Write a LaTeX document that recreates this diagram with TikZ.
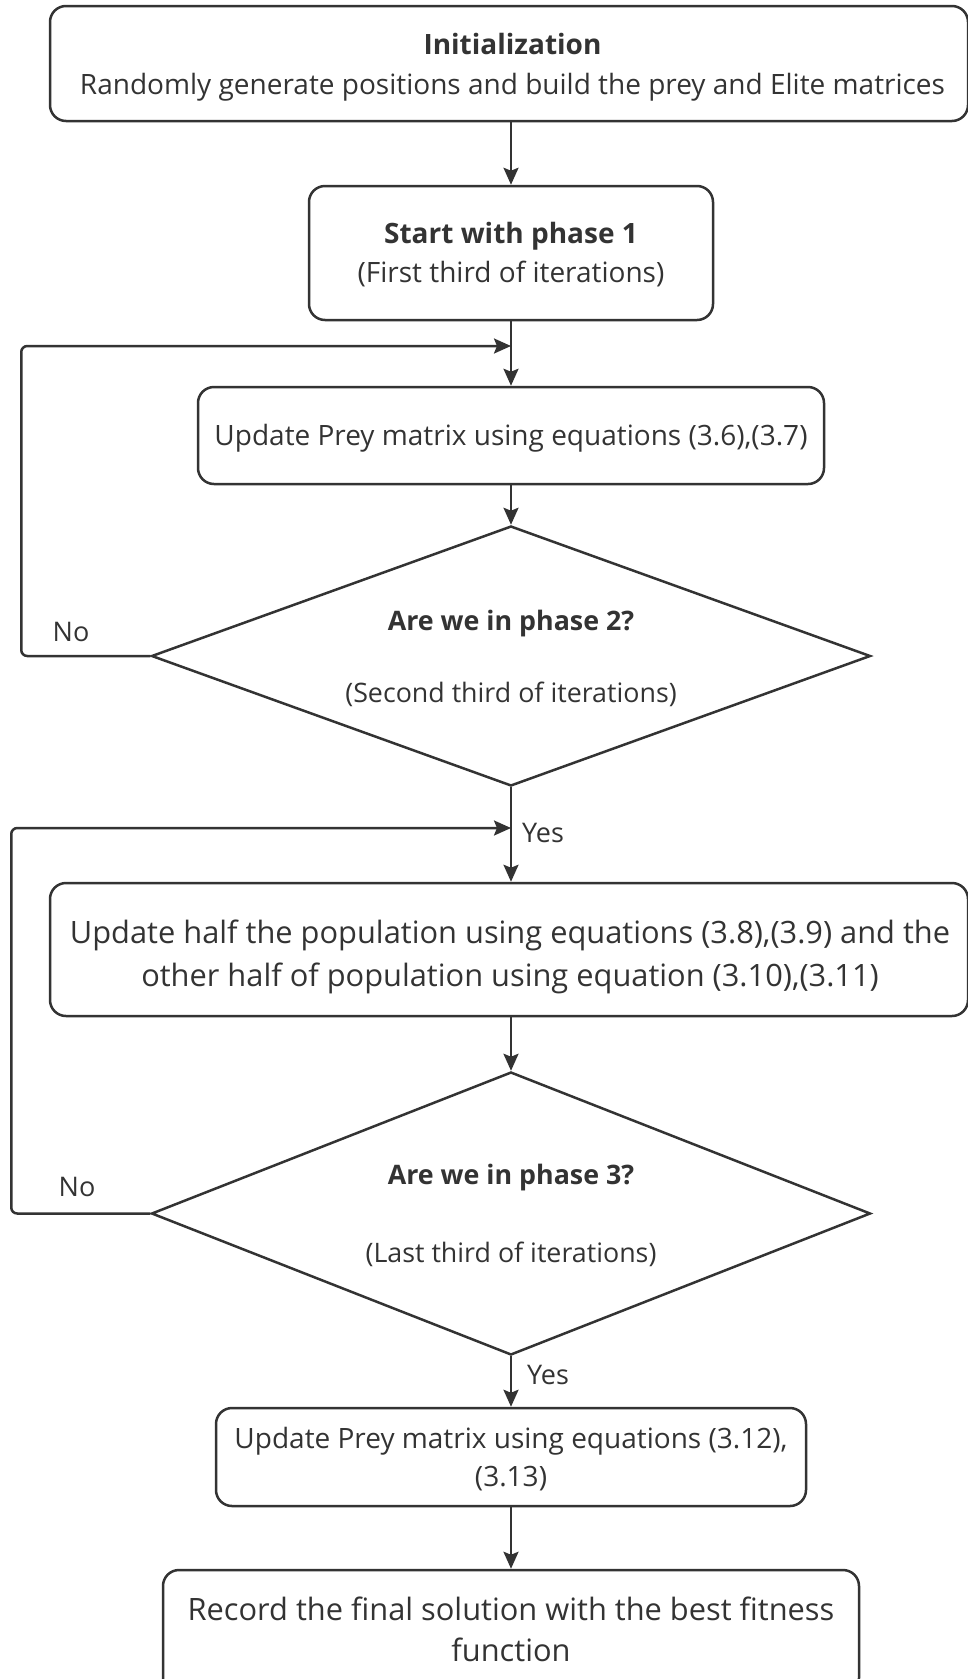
\documentclass[tikz,border=0pt]{standalone}
\usepackage{fontspec}
\setmainfont{Open Sans}
\usetikzlibrary{shapes.geometric,arrows.meta}
\definecolor{ink}{HTML}{333333}
\begin{document}
\begin{tikzpicture}[x=1pt,y=-1pt,
  box/.style={draw=ink, line width=2.5pt, rounded corners=16pt, inner sep=0pt},
  dia/.style={draw=ink, diamond, shape aspect=2.77, line width=2.5pt, inner sep=0pt},
  txt/.style={align=center, inner sep=0pt, text=ink},
  arr/.style={draw=ink, line width=2.5pt, -{Stealth[length=17pt,width=15pt,inset=3pt]}},
  loop/.style={arr, rounded corners=6pt},
  lbl/.style={text=ink, inner sep=0pt, font=\fontsize{27}{30}\selectfont}]
\useasboundingbox (0,0) rectangle (968,1679);
% shapes
\node[box, minimum width=918pt, minimum height=115pt] (init) at (509,63.5) {};
\node[box, minimum width=404pt, minimum height=134pt] (start) at (511,253) {};
\node[box, minimum width=626pt, minimum height=97pt] (upd1) at (511,435.5) {};
\node[dia, minimum width=719pt, minimum height=260pt] (d1) at (511,656) {};
\node[box, minimum width=918pt, minimum height=133pt] (upd2) at (509,949.5) {};
\node[dia, minimum width=719pt, minimum height=283pt] (d2) at (511,1213.5) {};
\node[box, minimum width=590pt, minimum height=98pt] (upd3) at (511,1457) {};
\node[box, minimum width=696pt, minimum height=124pt] (rec) at (511,1632) {};
% texts
\node[txt, font=\fontsize{28}{40}\selectfont] (initT) at (512.5,67.5)
  {\textbf{Initialization}\\Randomly generate positions and build the prey and Elite matrices};
\node[txt, font=\fontsize{28}{39}\selectfont] (startT) at (511,255)
  {\textbf{Start with phase 1}\\(First third of iterations)};
\node[txt, font=\fontsize{28}{38}\selectfont] (upd1T) at (511,438.5)
  {Update Prey matrix using equations (3.6),(3.7)};
\node[txt, font=\fontsize{26.8}{40}\selectfont] (d1T) at (511,658.7)
  {\textbf{Are we in phase 2?}\\[32pt](Second third of iterations)};
\node[txt, font=\fontsize{30.8}{43}\selectfont] (upd2T) at (510,956.5)
  {Update half the population using equations (3.8),(3.9) and the\\other half of population using equation (3.10),(3.11)};
\node[txt, font=\fontsize{26.8}{40}\selectfont] (d2T) at (511,1215)
  {\textbf{Are we in phase 3?}\\[38pt](Last third of iterations)};
\node[txt, font=\fontsize{28}{38.5}\selectfont] (upd3T) at (511,1459)
  {Update Prey matrix using equations (3.12),\\(3.13)};
\node[txt, font=\fontsize{30.8}{41}\selectfont] (recT) at (511,1629)
  {Record the final solution with the best fitness\\function};
% connectors
\coordinate (j1) at (511,346);
\coordinate (j2) at (511,828);
\draw[arr] (start.north |- init.south) -- (start.north);
\draw[arr] (start.south) -- (upd1.north);
\draw[arr] (upd1.south) -- (d1.north);
\draw[arr] (d1.south) -- (upd2.north -| d1.south);
\draw[arr] (upd2.south -| d2.north) -- (d2.north);
\draw[arr] (d2.south) -- (upd3.north);
\draw[arr] (upd3.south) -- (rec.north);
\draw[loop] (d1.west) -- ++(-129,0) |- (j1);
\draw[loop] (d2.west) -- ++(-139,0) |- (j2);
\node[lbl] (no1) at (71,632) {No};
\node[lbl] (no2) at (77,1187) {No};
\node[lbl] (yes1) at (543,833) {Yes};
\node[lbl] (yes2) at (548,1375) {Yes};
\end{tikzpicture}
\end{document}
